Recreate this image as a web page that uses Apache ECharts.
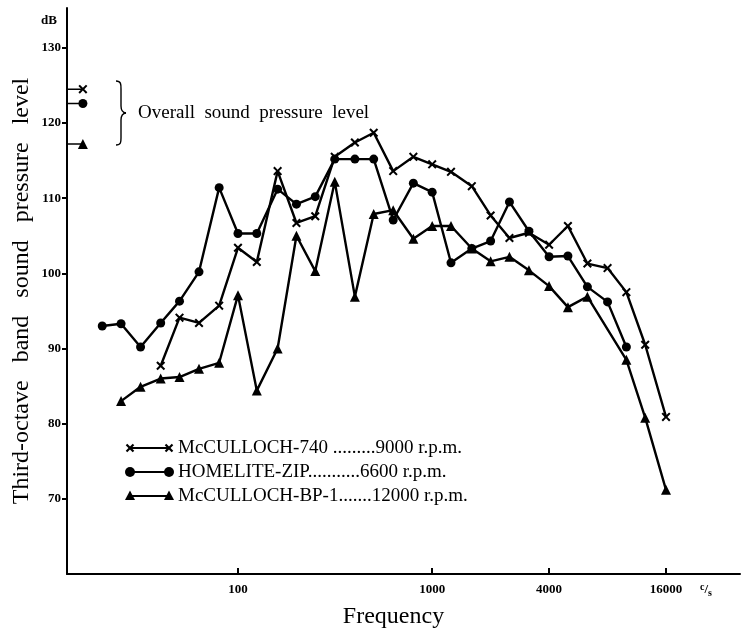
<!DOCTYPE html>
<html><head><meta charset="utf-8">
<script src="https://cdn.jsdelivr.net/npm/echarts@6/dist/echarts.min.js"></script>
<style>html,body{margin:0;padding:0;background:#fff}#c{width:741px;height:628px}</style>
</head><body><div id="c"></div>
<script>
// Third-octave band centre frequencies (Hz)
const bands = [20,25,31.5,40,50,63,80,100,125,160,200,250,315,400,500,630,800,1000,1250,1600,2000,2500,3150,4000,5000,6300,8000,10000,12500,16000];
// Band sound pressure levels (dB), null = not plotted
const mcculloch740 = [null,null,null,87.7,94.1,93.4,95.7,103.4,101.5,113.6,106.7,107.6,115.5,117.4,118.7,113.6,115.5,114.5,113.5,111.6,107.7,104.7,105.4,103.8,106.3,101.3,100.7,97.5,90.5,80.9];
const homeliteZip  = [93.0,93.3,90.2,93.4,96.3,100.2,111.4,105.3,105.3,111.2,109.2,110.2,115.2,115.2,115.2,107.1,112.0,110.8,101.4,103.3,104.3,109.5,105.6,102.2,102.3,98.2,96.2,90.2,null,null];
const mccullochBP1 = [null,83.0,84.9,86.0,86.2,87.3,88.1,97.1,84.4,90.0,105.0,100.3,112.2,96.9,107.9,108.4,104.6,106.3,106.3,103.3,101.6,102.2,100.4,98.3,95.5,96.9,null,88.5,80.8,71.2];
// Overall sound pressure levels (dB): McCULLOCH-740, HOMELITE-ZIP, McCULLOCH-BP-1
const overallLevels = [124.5, 122.6, 117.2];
const seriesNames = ['McCULLOCH-740', 'HOMELITE-ZIP', 'McCULLOCH-BP-1'];
const legendTexts = ['McCULLOCH-740 .........9000 r.p.m.', 'HOMELITE-ZIP...........6600 r.p.m.', 'McCULLOCH-BP-1.......12000 r.p.m.'];
const xTickValues = [100, 1000, 4000, 16000];
const yTickValues = [70, 80, 90, 100, 110, 120, 130];

const FONT = '"Liberation Serif", "DejaVu Serif", serif';
const crossPath = 'path://M0,1.6L1.6,0L5,3.4L8.4,0L10,1.6L6.6,5L10,8.4L8.4,10L5,6.6L1.6,10L0,8.4L3.4,5Z';
const symbols = [crossPath, 'circle', 'triangle'];
const symSizes = [9, 9, 10];
const allSeries = [mcculloch740, homeliteZip, mccullochBP1];

const xMin = 13.17, xMax = 38470, overallX = 15.9;
const yMin = 60, yMax = 135.3;

function pairs(vals){ const out=[]; vals.forEach((v,i)=>{ if(v!==null) out.push([bands[i], v]); }); return out; }

const series = [];
allSeries.forEach((vals, k) => {
  series.push({
    name: seriesNames[k], type: 'line', data: pairs(vals), connectNulls: true,
    symbol: symbols[k], symbolSize: symSizes[k], showAllSymbol: true,
    lineStyle: { color: '#000', width: 2.4 }, itemStyle: { color: '#000' },
    animation: false, z: 3
  });
  series.push({
    name: seriesNames[k] + ' overall', type: 'line',
    data: [{ value: [xMin, overallLevels[k]], symbol: 'none' }, { value: [overallX, overallLevels[k]] }],
    symbol: symbols[k], symbolSize: symSizes[k],
    lineStyle: { color: '#000', width: 1.6 }, itemStyle: { color: '#000' },
    animation: false, z: 3
  });
});

const chart = echarts.init(document.getElementById('c'), null, { renderer: 'canvas' });

// legend graphics
const legendGraphics = [];
const legRows = [448, 472, 496];
legRows.forEach((y, k) => {
  legendGraphics.push({ type: 'line', shape: { x1: 130, y1: y, x2: 169, y2: y }, style: { stroke: '#000', lineWidth: 1.8 } });
  [130, 169].forEach(cx => {
    if (k === 0) {
      legendGraphics.push({ type: 'line', shape: { x1: cx - 3.5, y1: y - 3.5, x2: cx + 3.5, y2: y + 3.5 }, style: { stroke: '#000', lineWidth: 2.2 } });
      legendGraphics.push({ type: 'line', shape: { x1: cx - 3.5, y1: y + 3.5, x2: cx + 3.5, y2: y - 3.5 }, style: { stroke: '#000', lineWidth: 2.2 } });
    } else if (k === 1) {
      legendGraphics.push({ type: 'circle', shape: { cx: cx, cy: y, r: 5 }, style: { fill: '#000' } });
    } else {
      legendGraphics.push({ type: 'polygon', shape: { points: [[cx, y - 5.5], [cx + 5, y + 4], [cx - 5, y + 4]] }, style: { fill: '#000' } });
    }
  });
  legendGraphics.push({ type: 'text', x: 178, y: y, style: { text: legendTexts[k], font: '19px ' + FONT, fill: '#000', verticalAlign: 'middle', align: 'left' } });
});

// curly brace made of bezier pieces
const braceStyle = { stroke: '#000', lineWidth: 1.4, fill: null };
const brace = [
  { type: 'bezierCurve', shape: { x1: 116, y1: 81, cpx1: 121, cpy1: 81, cpx2: 121, cpy2: 84, x2: 121, y2: 89 }, style: braceStyle },
  { type: 'line', shape: { x1: 121, y1: 89, x2: 121, y2: 106 }, style: braceStyle },
  { type: 'bezierCurve', shape: { x1: 121, y1: 106, cpx1: 121, cpy1: 110, cpx2: 122, cpy2: 112.5, x2: 126, y2: 113 }, style: braceStyle },
  { type: 'bezierCurve', shape: { x1: 126, y1: 113, cpx1: 122, cpy1: 113.5, cpx2: 121, cpy2: 116, x2: 121, y2: 120 }, style: braceStyle },
  { type: 'line', shape: { x1: 121, y1: 120, x2: 121, y2: 138 }, style: braceStyle },
  { type: 'bezierCurve', shape: { x1: 121, y1: 138, cpx1: 121, cpy1: 142, cpx2: 121, cpy2: 145, x2: 116, y2: 145 }, style: braceStyle }
];

chart.setOption({
  backgroundColor: '#fff',
  animation: false,
  grid: { left: 67, top: 8, right: 1, bottom: 54, outerBoundsMode: 'none', containLabel: false },
  xAxis: {
    type: 'log', logBase: 10, min: xMin, max: xMax,
    name: 'Frequency', nameLocation: 'middle', nameGap: 31, nameMoveOverlap: false,
    nameTextStyle: { fontFamily: FONT, fontSize: 24, color: '#000', padding: [0, 20, 0, 0] },
    axisLine: { show: true, lineStyle: { color: '#000', width: 2 } },
    axisTick: { show: true, inside: true, length: 6, customValues: xTickValues, lineStyle: { color: '#000', width: 2 } },
    axisLabel: { show: true, customValues: xTickValues, fontFamily: FONT, fontWeight: 'bold', fontSize: 13, color: '#000', margin: 9,
      formatter: v => String(v) },
    splitLine: { show: false }, minorTick: { show: false }, minorSplitLine: { show: false }
  },
  yAxis: {
    type: 'value', min: yMin, max: yMax,
    name: 'Third-octave   band   sound   pressure   level', nameLocation: 'middle', nameGap: 33, nameRotate: 90, nameMoveOverlap: false,
    nameTextStyle: { fontFamily: FONT, fontSize: 24, color: '#000' },
    axisLine: { show: true, lineStyle: { color: '#000', width: 2 } },
    axisTick: { show: true, inside: false, length: 5, customValues: yTickValues, lineStyle: { color: '#000', width: 2 } },
    axisLabel: { customValues: yTickValues, fontFamily: FONT, fontWeight: 'bold', fontSize: 13, color: '#000', margin: 6,
      formatter: v => String(v) },
    splitLine: { show: false }
  },
  series: series,
  graphic: [
    { type: 'text', x: 57, y: 21, style: { text: 'dB', font: 'bold 13px ' + FONT, fill: '#000', align: 'right', verticalAlign: 'middle' } },
    { type: 'text', x: 138, y: 113, style: { text: 'Overall  sound  pressure  level', font: '19px ' + FONT, fill: '#000', align: 'left', verticalAlign: 'middle' } },
    { type: 'text', x: 700, y: 590, style: { text: '{a|c}{b|/}{c|s}', align: 'left', verticalAlign: 'middle', rich: {
      a: { font: 'bold 10px ' + FONT, fill: '#000', padding: [0,0,6,0] },
      b: { font: 'bold 13px ' + FONT, fill: '#000' },
      c: { font: 'bold 10px ' + FONT, fill: '#000', padding: [6,0,0,0] } } } }
  ].concat(brace, legendGraphics)
});
</script>
</body></html>
